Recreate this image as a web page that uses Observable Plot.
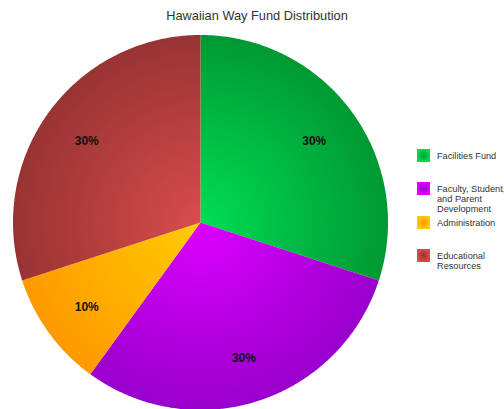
<!DOCTYPE html>
<html>
<head>
<meta charset="utf-8">
<script src="https://cdn.jsdelivr.net/npm/d3@7"></script>
<script src="https://cdn.jsdelivr.net/npm/@observablehq/plot@0.6"></script>
<style>
  html, body { margin: 0; padding: 0; background: #fff; }
  #wrap { position: relative; width: 504px; height: 409px; overflow: hidden; font-family: "Liberation Sans", Arial, sans-serif; }
  #chart { position: absolute; left: 0; top: 0; }
  #title { position: absolute; left: 0; width: 514px; top: 7px; text-align: center; font-size: 12.8px; color: #333; line-height: 18px; }
  .row { position: absolute; left: 417px; }
  .row svg { position: absolute; left: 0; top: 0; }
  .row .lab { position: absolute; left: 20px; top: 0; font-size: 9.2px; line-height: 10px; color: #333; white-space: pre; }
</style>
</head>
<body>
<div id="wrap">
  <div id="chart"></div>
  <div id="title">Hawaiian Way Fund Distribution</div>
</div>
<script>
const title = "Hawaiian Way Fund Distribution";
const categories = ["Facilities Fund", "Faculty, Student, and Parent Development", "Administration", "Educational Resources"];
const legendLines = ["Facilities Fund", "Faculty, Student,\nand Parent\nDevelopment", "Administration", "Educational\nResources"];
const values = [30, 30, 10, 30];
const labels = ["30%", "30%", "10%", "30%"];
const centerColors = ["#00dd55", "#dd00ff", "#ffcc00", "#d84c4c"];
const edgeColors = ["#009933", "#9900cc", "#ff9900", "#993333"];

const arcs = d3.pie().sort(null).startAngle(0).endAngle(2 * Math.PI)(values);
const slices = arcs.map((a, i) => {
  const pts = [{x: 0, y: 0}];
  const n = Math.max(2, Math.ceil((a.endAngle - a.startAngle) / (Math.PI / 360)));
  for (let k = 0; k <= n; k++) {
    const t = a.startAngle + (a.endAngle - a.startAngle) * k / n;
    pts.push({x: Math.sin(t), y: Math.cos(t)});
  }
  return pts;
});
const labelData = arcs.map((a, i) => {
  const m = (a.startAngle + a.endAngle) / 2;
  return {x: 0.75 * Math.sin(m), y: 0.75 * Math.cos(m), text: labels[i]};
});

const cx = 200, cy = 222, R = 187.5;
const chart = Plot.plot({
  width: 504,
  height: 409,
  margin: 0,
  x: {domain: [-1, 1], range: [cx - R, cx + R], axis: null},
  y: {domain: [-1, 1], range: [cy + R, cy - R], axis: null},
  marks: [
    ...slices.map((pts, i) => Plot.line(pts, {x: "x", y: "y", fill: `url(#grad${i})`, stroke: "none"})),
    Plot.text(labelData, {x: "x", y: "y", text: "text", dy: 1.5, fontSize: 12, fontWeight: "bold", fill: "#111", fontFamily: "Liberation Sans, Arial, sans-serif"})
  ]
});
const svg = d3.select(chart);
const defs = svg.insert("defs", ":first-child");
const px = chart.scale("x").apply(0), py = chart.scale("y").apply(0);
const pr = chart.scale("x").apply(1) - px;
centerColors.forEach((c, i) => {
  const g = defs.append("radialGradient").attr("id", `grad${i}`).attr("gradientUnits", "userSpaceOnUse")
    .attr("cx", px).attr("cy", py).attr("r", pr);
  g.append("stop").attr("offset", "0%").attr("stop-color", c);
  g.append("stop").attr("offset", "100%").attr("stop-color", edgeColors[i]);
});
document.getElementById("chart").appendChild(chart);

const wrap = document.getElementById("wrap");
const rowTops = [149, 182.3, 215.6, 249];
categories.forEach((c, i) => {
  const row = document.createElement("div");
  row.className = "row";
  row.style.top = rowTops[i] + "px";
  row.innerHTML = `<svg width="13" height="13"><defs><radialGradient id="sw${i}"><stop offset="0%" stop-color="${edgeColors[i]}"/><stop offset="100%" stop-color="${centerColors[i]}"/></radialGradient></defs><rect x="0" y="0" width="13" height="13" fill="url(#sw${i})"/></svg><div class="lab" style="top:2px">${legendLines[i]}</div>`;
  row.title = c;
  wrap.appendChild(row);
});
</script>
</body>
</html>
